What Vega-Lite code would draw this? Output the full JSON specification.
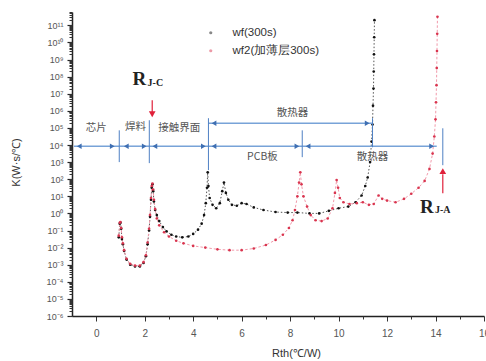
{
  "$schema": "https://vega.github.io/schema/vega-lite/v6.json",
  "width": 412,
  "height": 304,
  "autosize": {"type": "none"},
  "padding": {"left": 72, "top": 12, "right": 2, "bottom": 45},
  "background": "#ffffff",
  "config": {"view": {"stroke": null}, "font": "Liberation Sans"},
  "datasets": {
    "curves": [
      {"series": "wf(300s)", "x": 0.93, "k": 3.98e-2},
      {"series": "wf(300s)", "x": 0.97, "k": 2.51e-1},
      {"series": "wf(300s)", "x": 1.0, "k": 2.82e-1},
      {"series": "wf(300s)", "x": 1.03, "k": 1.26e-1},
      {"series": "wf(300s)", "x": 1.06, "k": 3.16e-2},
      {"series": "wf(300s)", "x": 1.1, "k": 1.58e-2},
      {"series": "wf(300s)", "x": 1.15, "k": 6.31e-3},
      {"series": "wf(300s)", "x": 1.25, "k": 2.0e-3},
      {"series": "wf(300s)", "x": 1.4, "k": 1.0e-3},
      {"series": "wf(300s)", "x": 1.6, "k": 7.94e-4},
      {"series": "wf(300s)", "x": 1.8, "k": 7.94e-4},
      {"series": "wf(300s)", "x": 1.95, "k": 1.26e-3},
      {"series": "wf(300s)", "x": 2.05, "k": 3.16e-3},
      {"series": "wf(300s)", "x": 2.12, "k": 1.58e-2},
      {"series": "wf(300s)", "x": 2.18, "k": 1.0e-1},
      {"series": "wf(300s)", "x": 2.22, "k": 6.31e-1},
      {"series": "wf(300s)", "x": 2.26, "k": 6.31},
      {"series": "wf(300s)", "x": 2.29, "k": 31.6},
      {"series": "wf(300s)", "x": 2.32, "k": 50.1},
      {"series": "wf(300s)", "x": 2.35, "k": 20.0},
      {"series": "wf(300s)", "x": 2.38, "k": 5.01},
      {"series": "wf(300s)", "x": 2.43, "k": 1.58},
      {"series": "wf(300s)", "x": 2.5, "k": 7.94e-1},
      {"series": "wf(300s)", "x": 2.6, "k": 3.55e-1},
      {"series": "wf(300s)", "x": 2.75, "k": 1.58e-1},
      {"series": "wf(300s)", "x": 2.9, "k": 8.91e-2},
      {"series": "wf(300s)", "x": 3.1, "k": 5.62e-2},
      {"series": "wf(300s)", "x": 3.3, "k": 4.47e-2},
      {"series": "wf(300s)", "x": 3.55, "k": 3.98e-2},
      {"series": "wf(300s)", "x": 3.8, "k": 4.47e-2},
      {"series": "wf(300s)", "x": 4.0, "k": 6.31e-2},
      {"series": "wf(300s)", "x": 4.2, "k": 1.12e-1},
      {"series": "wf(300s)", "x": 4.35, "k": 2.51e-1},
      {"series": "wf(300s)", "x": 4.45, "k": 7.94e-1},
      {"series": "wf(300s)", "x": 4.52, "k": 3.98},
      {"series": "wf(300s)", "x": 4.57, "k": 31.6},
      {"series": "wf(300s)", "x": 4.6, "k": 251},
      {"series": "wf(300s)", "x": 4.63, "k": 39.8},
      {"series": "wf(300s)", "x": 4.68, "k": 7.94},
      {"series": "wf(300s)", "x": 4.8, "k": 3.16},
      {"series": "wf(300s)", "x": 4.95, "k": 2.0},
      {"series": "wf(300s)", "x": 5.1, "k": 3.98},
      {"series": "wf(300s)", "x": 5.2, "k": 20.0},
      {"series": "wf(300s)", "x": 5.27, "k": 63.1},
      {"series": "wf(300s)", "x": 5.35, "k": 15.8},
      {"series": "wf(300s)", "x": 5.45, "k": 6.31},
      {"series": "wf(300s)", "x": 5.6, "k": 3.16},
      {"series": "wf(300s)", "x": 5.8, "k": 2.82},
      {"series": "wf(300s)", "x": 6.0, "k": 3.98},
      {"series": "wf(300s)", "x": 6.2, "k": 3.55},
      {"series": "wf(300s)", "x": 6.5, "k": 2.24},
      {"series": "wf(300s)", "x": 6.9, "k": 1.58},
      {"series": "wf(300s)", "x": 7.4, "k": 1.2},
      {"series": "wf(300s)", "x": 7.9, "k": 1.12},
      {"series": "wf(300s)", "x": 8.3, "k": 1.12},
      {"series": "wf(300s)", "x": 8.8, "k": 1.0},
      {"series": "wf(300s)", "x": 9.2, "k": 1.0},
      {"series": "wf(300s)", "x": 9.6, "k": 1.41},
      {"series": "wf(300s)", "x": 10.0, "k": 2.0},
      {"series": "wf(300s)", "x": 10.4, "k": 2.51},
      {"series": "wf(300s)", "x": 10.7, "k": 4.47},
      {"series": "wf(300s)", "x": 10.95, "k": 11.2},
      {"series": "wf(300s)", "x": 11.1, "k": 39.8},
      {"series": "wf(300s)", "x": 11.2, "k": 126},
      {"series": "wf(300s)", "x": 11.3, "k": 1000},
      {"series": "wf(300s)", "x": 11.36, "k": 1.58e4},
      {"series": "wf(300s)", "x": 11.4, "k": 1.58e5},
      {"series": "wf(300s)", "x": 11.42, "k": 2.0e6},
      {"series": "wf(300s)", "x": 11.44, "k": 2.0e7},
      {"series": "wf(300s)", "x": 11.45, "k": 2.0e8},
      {"series": "wf(300s)", "x": 11.46, "k": 2.0e9},
      {"series": "wf(300s)", "x": 11.47, "k": 2.0e10},
      {"series": "wf(300s)", "x": 11.48, "k": 2.0e11},
      {"series": "wf2(加薄层300s)", "x": 0.93, "k": 5.01e-2},
      {"series": "wf2(加薄层300s)", "x": 0.97, "k": 2.82e-1},
      {"series": "wf2(加薄层300s)", "x": 1.0, "k": 3.16e-1},
      {"series": "wf2(加薄层300s)", "x": 1.03, "k": 1.41e-1},
      {"series": "wf2(加薄层300s)", "x": 1.06, "k": 3.98e-2},
      {"series": "wf2(加薄层300s)", "x": 1.1, "k": 1.78e-2},
      {"series": "wf2(加薄层300s)", "x": 1.15, "k": 7.08e-3},
      {"series": "wf2(加薄层300s)", "x": 1.25, "k": 2.24e-3},
      {"series": "wf2(加薄层300s)", "x": 1.4, "k": 1.12e-3},
      {"series": "wf2(加薄层300s)", "x": 1.6, "k": 8.91e-4},
      {"series": "wf2(加薄层300s)", "x": 1.8, "k": 8.91e-4},
      {"series": "wf2(加薄层300s)", "x": 1.95, "k": 1.41e-3},
      {"series": "wf2(加薄层300s)", "x": 2.05, "k": 3.55e-3},
      {"series": "wf2(加薄层300s)", "x": 2.12, "k": 2.0e-2},
      {"series": "wf2(加薄层300s)", "x": 2.18, "k": 1.26e-1},
      {"series": "wf2(加薄层300s)", "x": 2.22, "k": 7.94e-1},
      {"series": "wf2(加薄层300s)", "x": 2.26, "k": 7.94},
      {"series": "wf2(加薄层300s)", "x": 2.29, "k": 39.8},
      {"series": "wf2(加薄层300s)", "x": 2.32, "k": 56.2},
      {"series": "wf2(加薄层300s)", "x": 2.35, "k": 25.1},
      {"series": "wf2(加薄层300s)", "x": 2.38, "k": 6.31},
      {"series": "wf2(加薄层300s)", "x": 2.43, "k": 1.78},
      {"series": "wf2(加薄层300s)", "x": 2.5, "k": 5.01e-1},
      {"series": "wf2(加薄层300s)", "x": 2.6, "k": 2.0e-1},
      {"series": "wf2(加薄层300s)", "x": 2.8, "k": 7.94e-2},
      {"series": "wf2(加薄层300s)", "x": 3.0, "k": 4.47e-2},
      {"series": "wf2(加薄层300s)", "x": 3.3, "k": 2.51e-2},
      {"series": "wf2(加薄层300s)", "x": 3.6, "k": 1.78e-2},
      {"series": "wf2(加薄层300s)", "x": 4.0, "k": 1.26e-2},
      {"series": "wf2(加薄层300s)", "x": 4.5, "k": 1.0e-2},
      {"series": "wf2(加薄层300s)", "x": 5.0, "k": 7.94e-3},
      {"series": "wf2(加薄层300s)", "x": 5.5, "k": 7.08e-3},
      {"series": "wf2(加薄层300s)", "x": 6.0, "k": 7.08e-3},
      {"series": "wf2(加薄层300s)", "x": 6.5, "k": 8.91e-3},
      {"series": "wf2(加薄层300s)", "x": 7.0, "k": 1.41e-2},
      {"series": "wf2(加薄层300s)", "x": 7.4, "k": 2.82e-2},
      {"series": "wf2(加薄层300s)", "x": 7.7, "k": 5.62e-2},
      {"series": "wf2(加薄层300s)", "x": 7.95, "k": 1.41e-1},
      {"series": "wf2(加薄层300s)", "x": 8.1, "k": 3.98e-1},
      {"series": "wf2(加薄层300s)", "x": 8.2, "k": 1.58},
      {"series": "wf2(加薄层300s)", "x": 8.3, "k": 10},
      {"series": "wf2(加薄层300s)", "x": 8.37, "k": 63.1},
      {"series": "wf2(加薄层300s)", "x": 8.42, "k": 251},
      {"series": "wf2(加薄层300s)", "x": 8.47, "k": 50.1},
      {"series": "wf2(加薄层300s)", "x": 8.55, "k": 10},
      {"series": "wf2(加薄层300s)", "x": 8.7, "k": 2.51},
      {"series": "wf2(加薄层300s)", "x": 8.85, "k": 7.94e-1},
      {"series": "wf2(加薄层300s)", "x": 9.05, "k": 3.98e-1},
      {"series": "wf2(加薄层300s)", "x": 9.3, "k": 3.55e-1},
      {"series": "wf2(加薄层300s)", "x": 9.55, "k": 5.01e-1},
      {"series": "wf2(加薄层300s)", "x": 9.75, "k": 2.0},
      {"series": "wf2(加薄层300s)", "x": 9.85, "k": 15.8},
      {"series": "wf2(加薄层300s)", "x": 9.92, "k": 89.1},
      {"series": "wf2(加薄层300s)", "x": 9.98, "k": 31.6},
      {"series": "wf2(加薄层300s)", "x": 10.05, "k": 7.94},
      {"series": "wf2(加薄层300s)", "x": 10.2, "k": 4.47},
      {"series": "wf2(加薄层300s)", "x": 10.45, "k": 3.55},
      {"series": "wf2(加薄层300s)", "x": 10.75, "k": 3.98},
      {"series": "wf2(加薄层300s)", "x": 11.0, "k": 4.47},
      {"series": "wf2(加薄层300s)", "x": 11.25, "k": 3.16},
      {"series": "wf2(加薄层300s)", "x": 11.45, "k": 3.55},
      {"series": "wf2(加薄层300s)", "x": 11.65, "k": 11.2},
      {"series": "wf2(加薄层300s)", "x": 11.8, "k": 7.08},
      {"series": "wf2(加薄层300s)", "x": 12.0, "k": 5.62},
      {"series": "wf2(加薄层300s)", "x": 12.35, "k": 4.47},
      {"series": "wf2(加薄层300s)", "x": 12.7, "k": 7.08},
      {"series": "wf2(加薄层300s)", "x": 13.0, "k": 14.1},
      {"series": "wf2(加薄层300s)", "x": 13.3, "k": 31.6},
      {"series": "wf2(加薄层300s)", "x": 13.55, "k": 79.4},
      {"series": "wf2(加薄层300s)", "x": 13.75, "k": 398},
      {"series": "wf2(加薄层300s)", "x": 13.88, "k": 3162},
      {"series": "wf2(加薄层300s)", "x": 13.95, "k": 3.16e4},
      {"series": "wf2(加薄层300s)", "x": 14.0, "k": 3.16e5},
      {"series": "wf2(加薄层300s)", "x": 14.02, "k": 3.16e6},
      {"series": "wf2(加薄层300s)", "x": 14.04, "k": 3.16e7},
      {"series": "wf2(加薄层300s)", "x": 14.05, "k": 3.16e8},
      {"series": "wf2(加薄层300s)", "x": 14.06, "k": 3.16e9},
      {"series": "wf2(加薄层300s)", "x": 14.07, "k": 3.16e10},
      {"series": "wf2(加薄层300s)", "x": 14.08, "k": 3.16e11}
    ],
    "hsegs": [
      {"x": -0.92, "x2": 0.95, "k": 8.5e3},
      {"x": 0.95, "x2": 2.19, "k": 8.5e3},
      {"x": 2.19, "x2": 4.63, "k": 8.5e3},
      {"x": 4.63, "x2": 8.5, "k": 8.5e3},
      {"x": 8.5, "x2": 14.05, "k": 8.5e3},
      {"x": 4.63, "x2": 11.4, "k": 1.86e5}
    ],
    "vsegs": [
      {"x": 0.95, "k": 7.2e4, "k2": 1.0e3},
      {"x": 2.19, "k": 2.8e5, "k2": 8.7e2},
      {"x": 4.63, "k": 3.7e5, "k2": 3.4e2},
      {"x": 8.5, "k": 7.2e4, "k2": 1.95e3},
      {"x": 11.4, "k": 3.7e5, "k2": 7.4e3},
      {"x": 14.3, "k": 9.5e4, "k2": 6.6e2}
    ],
    "heads": [
      {"x": -0.7, "k": 8.5e3, "dir": "left"},
      {"x": 0.66, "k": 8.5e3, "dir": "right"},
      {"x": 1.24, "k": 8.5e3, "dir": "left"},
      {"x": 1.98, "k": 8.5e3, "dir": "right"},
      {"x": 2.42, "k": 8.5e3, "dir": "left"},
      {"x": 4.42, "k": 8.5e3, "dir": "right"},
      {"x": 4.86, "k": 8.5e3, "dir": "left"},
      {"x": 8.28, "k": 8.5e3, "dir": "right"},
      {"x": 8.74, "k": 8.5e3, "dir": "left"},
      {"x": 13.84, "k": 8.5e3, "dir": "right"},
      {"x": 4.86, "k": 1.86e5, "dir": "left"},
      {"x": 11.18, "k": 1.86e5, "dir": "right"}
    ],
    "zones": [
      {"x": 0.0, "k": 9.5e4, "t": "芯片"},
      {"x": 1.62, "k": 1.1e5, "t": "焊料"},
      {"x": 3.43, "k": 9.5e4, "t": "接触界面"},
      {"x": 8.1, "k": 7.2e5, "t": "散热器"},
      {"x": 6.86, "k": 1.95e3, "t": "PCB板"},
      {"x": 11.4, "k": 1.95e3, "t": "散热器"}
    ],
    "rarrows": [
      {"x": 2.31, "k": 4.2e6, "k2": 8.3e5, "hk": 6.3e5, "dir": "down"},
      {"x": 14.3, "k": 15, "k2": 195, "hk": 295, "dir": "up"}
    ],
    "rbig": [
      {"x": 1.78, "k": 6.9e7, "t": "R"},
      {"x": 13.64, "k": 2.34, "t": "R"}
    ],
    "rsub": [
      {"x": 2.12, "k": 4.4e7, "t": "J-C"},
      {"x": 13.98, "k": 1.5, "t": "J-A"}
    ]
  },
  "layer": [
    {
      "data": {"name": "curves"},
      "transform": [{"filter": "datum.series === 'wf(300s)'"}],
      "mark": {"type": "line", "strokeDash": [1.5, 2], "strokeWidth": 1, "color": "#555555", "clip": true},
      "encoding": {
        "x": {
          "field": "x", "type": "quantitative",
          "scale": {"domain": [-1, 16], "nice": false, "zero": false},
          "axis": {
            "orient": "bottom",
            "values": [0, 2, 4, 6, 8, 10, 12, 14, 16],
            "title": "Rth(℃/W)",
            "titleFont": "Liberation Sans", "titleFontSize": 11, "titleFontWeight": "normal", "titleColor": "#333",
            "titlePadding": 9, "titleX": 224,
            "labelFont": "Liberation Sans", "labelFontSize": 10, "labelColor": "#555",
            "labelPadding": 7, "labelFlush": false,
            "domainColor": "#222", "domainWidth": 1.5,
            "tickColor": "#333", "tickSize": 5, "tickWidth": 1,
            "grid": false
          }
        },
        "y": {
          "field": "k", "type": "quantitative",
          "scale": {"type": "log", "domain": [1e-6, 6e11], "nice": false},
          "axis": {
            "orient": "left",
            "values": [1e-6, 1e-5, 1e-4, 1e-3, 1e-2, 1e-1, 1, 10, 100, 1e3, 1e4, 1e5, 1e6, 1e7, 1e8, 1e9, 1e10, 1e11],
            "labelExpr": "'10' + replace(replace(replace(replace(replace(replace(replace(replace(replace(replace(replace(toString(round(log(datum.value)/LN10)), regexp('-','g'), '⁻'), regexp('0','g'), '⁰'), regexp('1','g'), '¹'), regexp('2','g'), '²'), regexp('3','g'), '³'), regexp('4','g'), '⁴'), regexp('5','g'), '⁵'), regexp('6','g'), '⁶'), regexp('7','g'), '⁷'), regexp('8','g'), '⁸'), regexp('9','g'), '⁹')",
            "title": "K(W·s/℃)",
            "titleFont": "Liberation Sans", "titleFontSize": 11, "titleFontWeight": "normal", "titleColor": "#333",
            "titleX": -51, "titleY": 150,
            "labelFont": "Liberation Sans", "labelFontSize": 9, "labelColor": "#555",
            "labelPadding": 4, "labelFlush": false, "labelOverlap": false,
            "domainColor": "#222", "domainWidth": 1.5,
            "tickColor": "#222", "tickSize": 5, "tickWidth": 1.2,
            "grid": false
          }
        }
      }
    },
    {
      "data": {"name": "curves"},
      "transform": [{"filter": "datum.series !== 'wf(300s)'"}],
      "mark": {"type": "line", "strokeDash": [2.5, 2], "strokeWidth": 1, "color": "#f29aab", "clip": true},
      "encoding": {
        "x": {"field": "x", "type": "quantitative", "axis": null},
        "y": {"field": "k", "type": "quantitative", "axis": null}
      }
    },
    {
      "data": {"name": "curves"},
      "mark": {"type": "point", "filled": true, "size": 7, "opacity": 1, "clip": true},
      "encoding": {
        "x": {"field": "x", "type": "quantitative", "axis": {"orient": "bottom", "values": [1, 3, 5, 7, 9, 11, 13, 15], "labels": false, "title": null, "domain": false, "tickSize": 3, "tickColor": "#333", "grid": false}},
        "y": {"field": "k", "type": "quantitative", "axis": {"orient": "left", "tickCount": 20, "labels": false, "title": null, "domain": false, "tickSize": 3, "tickColor": "#333", "grid": false}},
        "color": {
          "field": "series", "type": "nominal",
          "scale": {"domain": ["wf(300s)", "wf2(加薄层300s)"], "range": ["#111111", "#d9354f"]},
          "legend": {
            "title": null, "orient": "none", "legendX": 133, "legendY": 15,
            "symbolType": "circle", "symbolSize": 10, "symbolOpacity": 0.5,
            "labelFont": "Liberation Sans", "labelFontSize": 11.5, "labelColor": "#333",
            "labelOffset": 16, "rowPadding": 5, "padding": 0
          }
        }
      }
    },
    {
      "data": {"name": "hsegs"},
      "mark": {"type": "rule", "color": "#78a3d8", "strokeWidth": 1.5},
      "encoding": {"x": {"field": "x", "type": "quantitative", "axis": null}, "x2": {"field": "x2"}, "y": {"field": "k", "type": "quantitative", "axis": null}}
    },
    {
      "data": {"name": "vsegs"},
      "mark": {"type": "rule", "color": "#4f80c4", "strokeWidth": 1},
      "encoding": {"x": {"field": "x", "type": "quantitative", "axis": null}, "y": {"field": "k", "type": "quantitative", "axis": null}, "y2": {"field": "k2"}}
    },
    {
      "data": {"name": "heads"},
      "mark": {"type": "point", "filled": true, "size": 30, "color": "#3f6fb2", "opacity": 1},
      "encoding": {
        "x": {"field": "x", "type": "quantitative", "axis": null},
        "y": {"field": "k", "type": "quantitative", "axis": null},
        "shape": {"field": "dir", "type": "nominal", "scale": {"domain": ["left", "right", "up", "down"], "range": ["triangle-left", "triangle-right", "triangle-up", "triangle-down"]}, "legend": null}
      }
    },
    {
      "data": {"name": "zones"},
      "mark": {"type": "text", "font": "Noto Sans CJK SC", "fontSize": 10.5, "color": "#555555", "baseline": "middle", "align": "center"},
      "encoding": {"x": {"field": "x", "type": "quantitative", "axis": null}, "y": {"field": "k", "type": "quantitative", "axis": null}, "text": {"field": "t"}}
    },
    {
      "data": {"name": "rarrows"},
      "mark": {"type": "rule", "color": "#e0203a", "strokeWidth": 1.2},
      "encoding": {"x": {"field": "x", "type": "quantitative", "axis": null}, "y": {"field": "k", "type": "quantitative", "axis": null}, "y2": {"field": "k2"}}
    },
    {
      "data": {"name": "rarrows"},
      "mark": {"type": "point", "filled": true, "size": 45, "color": "#e0203a", "opacity": 1},
      "encoding": {
        "x": {"field": "x", "type": "quantitative", "axis": null},
        "y": {"field": "hk", "type": "quantitative", "axis": null},
        "shape": {"field": "dir", "type": "nominal", "legend": null}
      }
    },
    {
      "data": {"name": "rbig"},
      "mark": {"type": "text", "font": "Liberation Serif", "fontSize": 19, "fontWeight": "bold", "color": "#222222", "baseline": "middle", "align": "center"},
      "encoding": {"x": {"field": "x", "type": "quantitative", "axis": null}, "y": {"field": "k", "type": "quantitative", "axis": null}, "text": {"field": "t"}}
    },
    {
      "data": {"name": "rsub"},
      "mark": {"type": "text", "font": "Liberation Serif", "fontSize": 10, "fontWeight": "bold", "color": "#222222", "baseline": "middle", "align": "left"},
      "encoding": {"x": {"field": "x", "type": "quantitative", "axis": null}, "y": {"field": "k", "type": "quantitative", "axis": null}, "text": {"field": "t"}}
    }
  ],
  "resolve": {"axis": {"x": "independent", "y": "independent"}}
}
